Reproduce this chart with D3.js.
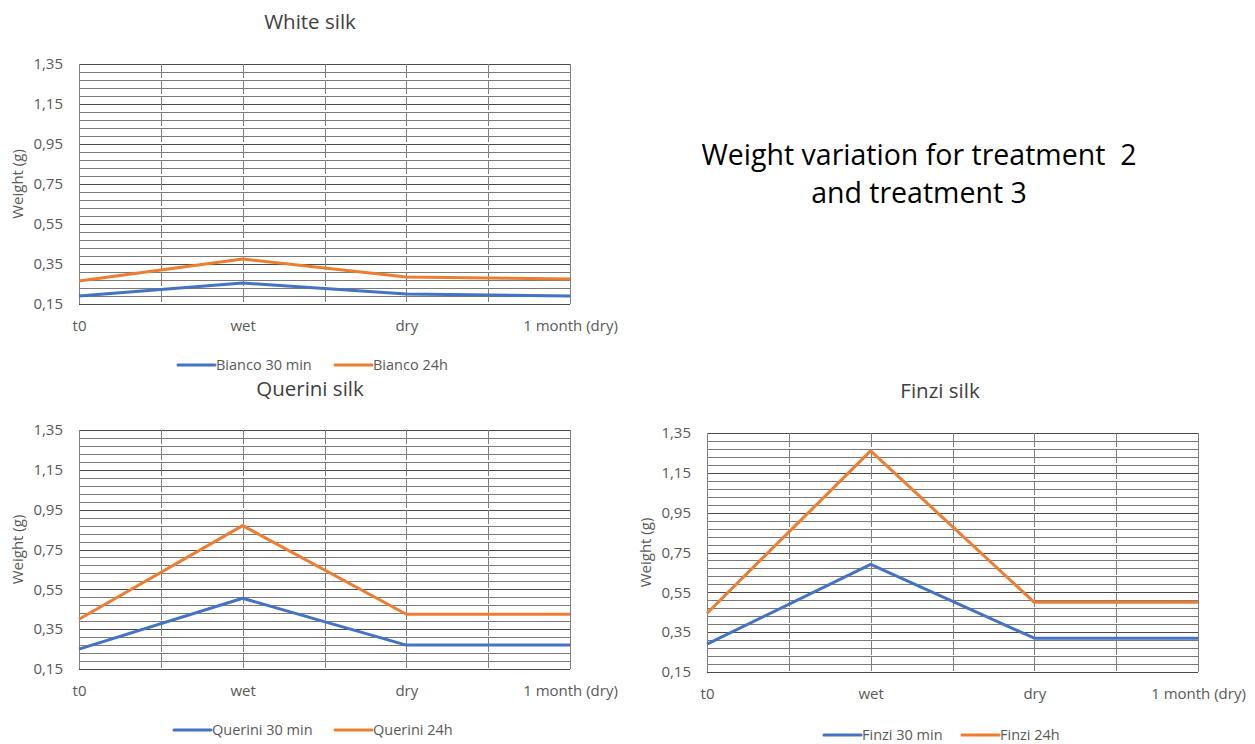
<!DOCTYPE html>
<html>
<head>
<meta charset="utf-8">
<script src="https://cdn.jsdelivr.net/npm/d3@7"></script>
<style>
  body { margin: 0; background: #fff; }
  text { font-family: "Open Sans", sans-serif; }
</style>
</head>
<body>
<div id="chart"></div>
<script>
var width = 1255, height = 744;

var stages = ['t0', 'wet', 'dry', '1 month (dry)'];
var yTicks = [0.15, 0.35, 0.55, 0.75, 0.95, 1.15, 1.35];

var bianco30 = [0.19, 0.255, 0.20, 0.19];
var bianco24 = [0.265, 0.375, 0.285, 0.275];
var querini30 = [0.25, 0.505, 0.27, 0.27];
var querini24 = [0.40, 0.87, 0.425, 0.425];
var finzi30 = [0.29, 0.69, 0.32, 0.32];
var finzi24 = [0.445, 1.26, 0.50, 0.50];

var blue = '#4472c4', orange = '#ed7d31';

var svg = d3.select('#chart').append('svg')
  .attr('width', width)
  .attr('height', height);

svg.append('text')
  .attr('x', 919).attr('y', 165)
  .attr('text-anchor', 'middle')
  .attr('font-size', 28.5)
  .attr('fill', '#000')
  .text('Weight variation for treatment\u00a0 2');
svg.append('text')
  .attr('x', 919).attr('y', 203)
  .attr('text-anchor', 'middle')
  .attr('font-size', 28.5)
  .attr('fill', '#000')
  .text('and treatment 3');

function drawChart(opts) {
  var g = svg.append('g');
  var x = d3.scaleLinear().domain([0, stages.length - 1]).range([opts.left, opts.right]);
  var y = d3.scaleLinear().domain([0.15, 1.35]).range([opts.bottom, opts.top]);

  // title
  g.append('text')
    .attr('x', opts.titleX).attr('y', opts.titleY)
    .attr('text-anchor', 'middle')
    .attr('font-size', 20.5)
    .attr('fill', '#404040')
    .text(opts.title);

  // horizontal grid every 0.04
  var hLines = d3.range(0, 31).map(function(i) { return 0.15 + i * 0.04; });
  g.append('g').selectAll('line')
    .data(hLines)
    .enter().append('line')
    .attr('x1', opts.left).attr('x2', opts.right)
    .attr('y1', function(d) { return Math.round(y(d)) + 0.5; })
    .attr('y2', function(d) { return Math.round(y(d)) + 0.5; })
    .attr('stroke', function(d, i) { return i % 5 == 0 ? '#4a4a4a' : '#7a7a7a'; })
    .attr('stroke-width', 1);

  // vertical grid at every half category
  var vLines = d3.range(0, (stages.length - 1) * 2 + 1).map(function(i) { return i / 2; });
  g.append('g').selectAll('line')
    .data(vLines)
    .enter().append('line')
    .attr('x1', function(d) { return Math.round(x(d)) + 0.5; })
    .attr('x2', function(d) { return Math.round(x(d)) + 0.5; })
    .attr('y1', opts.top).attr('y2', opts.bottom)
    .attr('stroke', '#808080')
    .attr('stroke-dasharray', function(d, i) { return (i == 0 || i == vLines.length - 1) ? null : '14,2'; });

  // y axis labels
  var yAxis = d3.axisLeft(y)
    .tickValues(yTicks)
    .tickSize(0)
    .tickPadding(0)
    .tickFormat(function(d) { return d3.format('.2f')(d).replace('.', ','); });
  g.append('g')
    .attr('transform', 'translate(' + (opts.left - 16) + ',0)')
    .call(yAxis)
    .call(function(s) { s.select('.domain').remove(); })
    .selectAll('text')
    .attr('font-family', '"Open Sans", sans-serif')
    .attr('font-size', 15)
    .attr('fill', '#595959');

  g.append('text')
    .attr('transform', 'translate(' + (opts.left - 56) + ',' + ((opts.top + opts.bottom) / 2) + ') rotate(-90)')
    .attr('text-anchor', 'middle')
    .attr('font-size', 15)
    .attr('fill', '#595959')
    .text('Weight (g)');

  // x axis labels
  var xAxis = d3.axisBottom(x)
    .tickValues(d3.range(stages.length))
    .tickSize(0)
    .tickPadding(0)
    .tickFormat(function(d) { return stages[d]; });
  g.append('g')
    .attr('transform', 'translate(0,' + (opts.bottom + 16) + ')')
    .call(xAxis)
    .call(function(s) { s.select('.domain').remove(); })
    .selectAll('text')
    .attr('font-family', '"Open Sans", sans-serif')
    .attr('font-size', 15)
    .attr('fill', '#595959');

  // series lines
  var line = d3.line()
    .x(function(d, i) { return x(i); })
    .y(function(d) { return y(d); });
  opts.series.forEach(function(s) {
    g.append('path')
      .datum(s.values)
      .attr('d', line)
      .attr('fill', 'none')
      .attr('stroke', s.color)
      .attr('stroke-width', 3)
      .attr('stroke-linejoin', 'round');
  });

  // legend
  var lg = g.append('g');
  opts.series.forEach(function(s, i) {
    var lx = opts.legendX[i];
    lg.append('line')
      .attr('x1', lx).attr('x2', lx + 37)
      .attr('y1', opts.legendY).attr('y2', opts.legendY)
      .attr('stroke', s.color)
      .attr('stroke-width', 3)
      .attr('stroke-linecap', 'round');
    lg.append('text')
      .attr('x', lx + 38).attr('y', opts.legendY + 5)
      .attr('font-size', 14.5)
      .attr('fill', '#595959')
      .text(s.name);
  });
}

drawChart({
  title: 'White silk', titleX: 310, titleY: 29,
  left: 79, right: 570, top: 64, bottom: 304,
  legendX: [178, 335], legendY: 365,
  series: [
    { name: 'Bianco 30 min', values: bianco30, color: blue },
    { name: 'Bianco 24h', values: bianco24, color: orange }
  ]
});

drawChart({
  title: 'Querini silk', titleX: 310, titleY: 396,
  left: 79, right: 570, top: 430, bottom: 669,
  legendX: [174, 335], legendY: 730,
  series: [
    { name: 'Querini 30 min', values: querini30, color: blue },
    { name: 'Querini 24h', values: querini24, color: orange }
  ]
});

drawChart({
  title: 'Finzi silk', titleX: 940, titleY: 398,
  left: 707, right: 1198, top: 433, bottom: 672,
  legendX: [824, 962], legendY: 735,
  series: [
    { name: 'Finzi 30 min', values: finzi30, color: blue },
    { name: 'Finzi 24h', values: finzi24, color: orange }
  ]
});
</script>
</body>
</html>
